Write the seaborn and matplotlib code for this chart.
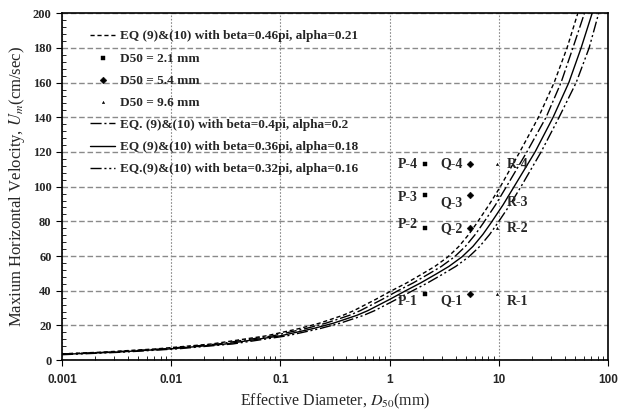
import numpy as np
import pandas as pd
import seaborn as sns
import matplotlib.pyplot as plt
from matplotlib.ticker import MultipleLocator, LogLocator, NullFormatter

# curves: D50 (mm) and Um (cm/sec)
u_036 = [3.3, 4.6, 6.5, 9.3, 14.0, 18.2, 21.3, 25.8, 28.5, 35.0, 40.0, 44.5, 49.5,
         54.0, 59.5, 65.5, 72.5, 79.0, 89.5, 100.0, 120.0, 140.0, 160.0, 180.0, 200.0]
d_036 = [0.001, 0.00316, 0.01, 0.0316, 0.1, 0.2, 0.306, 0.5, 0.63, 1.0, 1.40, 1.92, 2.64,
         3.48, 4.58, 5.77, 7.13, 8.43, 10.9, 13.75, 21.4, 31.3, 43.6, 56.5, 71.3]

u_046 = [3.6] + u_036[1:]
d_046 = [0.001, 0.00235, 0.00744, 0.0235, 0.0744, 0.149, 0.228, 0.372, 0.469, 0.744, 1.04, 1.43, 1.96,
         2.59, 3.41, 4.29, 5.30, 6.27, 8.11, 10.3, 15.5, 23.0, 32.0, 42.0, 52.7]

u_040 = [3.5] + u_036[1:]
d_040 = [0.001, 0.0027, 0.00853, 0.027, 0.0853, 0.171, 0.261, 0.427, 0.537, 0.853, 1.19, 1.64, 2.25,
         2.97, 3.91, 4.92, 6.08, 7.19, 9.30, 11.7, 18.0, 27.0, 37.0, 47.5, 60.6]

u_032 = [3.1] + u_036[1:]
d_032 = [0.001, 0.00365, 0.0115, 0.0365, 0.115, 0.231, 0.353, 0.577, 0.727, 1.15, 1.62, 2.22, 3.05,
         4.02, 5.29, 6.66, 8.23, 9.73, 12.6, 15.9, 24.3, 35.5, 50.9, 66.9, 81.8]

# measured points
u_points = [38, 76, 95, 113]
d_sizes = [2.1, 5.4, 9.6]
point_names = ["P", "Q", "R"]

curves = pd.concat([
    pd.DataFrame({"D": d_046, "U": u_046, "curve": "EQ (9)&(10) with beta=0.46pi, alpha=0.21"}),
    pd.DataFrame({"D": d_040, "U": u_040, "curve": "EQ. (9)&(10) with beta=0.4pi, alpha=0.2"}),
    pd.DataFrame({"D": d_036, "U": u_036, "curve": "EQ (9)&(10) with beta=0.36pi, alpha=0.18"}),
    pd.DataFrame({"D": d_032, "U": u_032, "curve": "EQ.(9)&(10) with beta=0.32pi, alpha=0.16"}),
])
eq_names = list(curves["curve"].unique())
dash_styles = [(3, 2), (8, 2, 1.5, 2), "", (8, 2, 1.5, 2, 1.5, 2)]

sns.set_style("ticks")
plt.rcParams["font.family"] = ["Liberation Serif", "DejaVu Serif"]
plt.rcParams["mathtext.fontset"] = "stix"

fig = plt.figure(figsize=(6.2, 4.12), dpi=100)
ax = fig.add_axes([0.100, 0.126, 0.881, 0.842])

handles = {}
for name, dash in zip(eq_names, dash_styles):
    sub = curves[curves["curve"] == name]
    sns.lineplot(ax=ax, x="D", y="U", data=sub, color="black", lw=1.0,
                 estimator=None, sort=False, legend=False)
    line = ax.lines[-1]
    if dash:
        line.set_dashes(dash)
    handles[name] = line

markers = ["s", "D", "^"]
msizes = [6, 12, 3]
for dval, name, mk, ms in zip(d_sizes, point_names, markers, msizes):
    pts = pd.DataFrame({"D": [dval] * len(u_points), "U": u_points})
    sns.scatterplot(ax=ax, x="D", y="U", data=pts, marker=mk, s=ms,
                    color="black", edgecolor="black", linewidth=0.3, legend=False)
    handles[name] = ax.collections[-1]

# point labels, offsets in points (rows: U=38, 76, 95, 113)
offs = {
    "P": [(-5, -5), (-5, 3), (-5, -1.5), (-5, 0)],
    "Q": [(-5, -5), (-5, 0), (-5, -5), (-5, 0)],
    "R": [(7, -5), (7, 0), (7, -5), (7, 0)],
}
for dval, name in zip(d_sizes, point_names):
    for k, u in enumerate(u_points):
        ha = "left" if name == "R" else "right"
        ax.annotate(f"{name}-{k + 1}", (dval, u), xytext=offs[name][k],
                    textcoords="offset points", ha=ha, va="center",
                    fontsize=10, fontweight="bold")

ax.set_xscale("log")
ax.set_xlim(0.001, 100)
ax.set_ylim(0, 200)
ax.yaxis.set_major_locator(MultipleLocator(20))
ax.yaxis.set_minor_locator(MultipleLocator(4))
ax.xaxis.set_minor_locator(LogLocator(base=10, subs=np.arange(2, 10)))
ax.xaxis.set_minor_formatter(NullFormatter())
ax.set_xticks([0.001, 0.01, 0.1, 1, 10, 100])
ax.set_xticklabels(["0.001", "0.01", "0.1", "1", "10", "100"],
                   fontfamily="Liberation Sans", fontweight="bold", fontsize=8.5)
for t in ax.get_yticklabels():
    t.set_fontweight("bold")
    t.set_fontsize(9)

ax.tick_params(which="major", direction="out", length=4, width=0.8, color="black")
ax.tick_params(which="minor", direction="in", length=3, width=0.6, color="black")
ax.tick_params(axis="x", which="major", pad=6)

ax.grid(axis="y", which="major", color="#8a8a8a", ls=(0, (4, 2)), lw=1.0)
ax.grid(axis="x", which="major", color="#8a8a8a", ls=(0, (1.5, 1.5)), lw=0.8)
for sp in ax.spines.values():
    sp.set_visible(True)
    sp.set_color("black")
    sp.set_linewidth(1.2)

ax.set_xlabel(r"Effective Diameter, $\mathit{D_{50}}$(mm)", fontsize=11.5)
ax.set_ylabel(r"Maxium Horizontal Velocity, $\mathit{U_m}$(cm/sec)", fontsize=12)

order = [eq_names[0], "P", "Q", "R", eq_names[1], eq_names[2], eq_names[3]]
labels = [eq_names[0], "D50 = 2.1 mm", "D50 = 5.4 mm", "D50 = 9.6 mm",
          eq_names[1], eq_names[2], eq_names[3]]
ax.legend([handles[o] for o in order], labels, loc="upper left",
          bbox_to_anchor=(0.03, 0.985), frameon=False, handlelength=1.9,
          handletextpad=0.35, labelspacing=0.75,
          prop={"family": "Liberation Serif", "weight": "bold", "size": 9.5})

fig.savefig("out.png", dpi=100)
